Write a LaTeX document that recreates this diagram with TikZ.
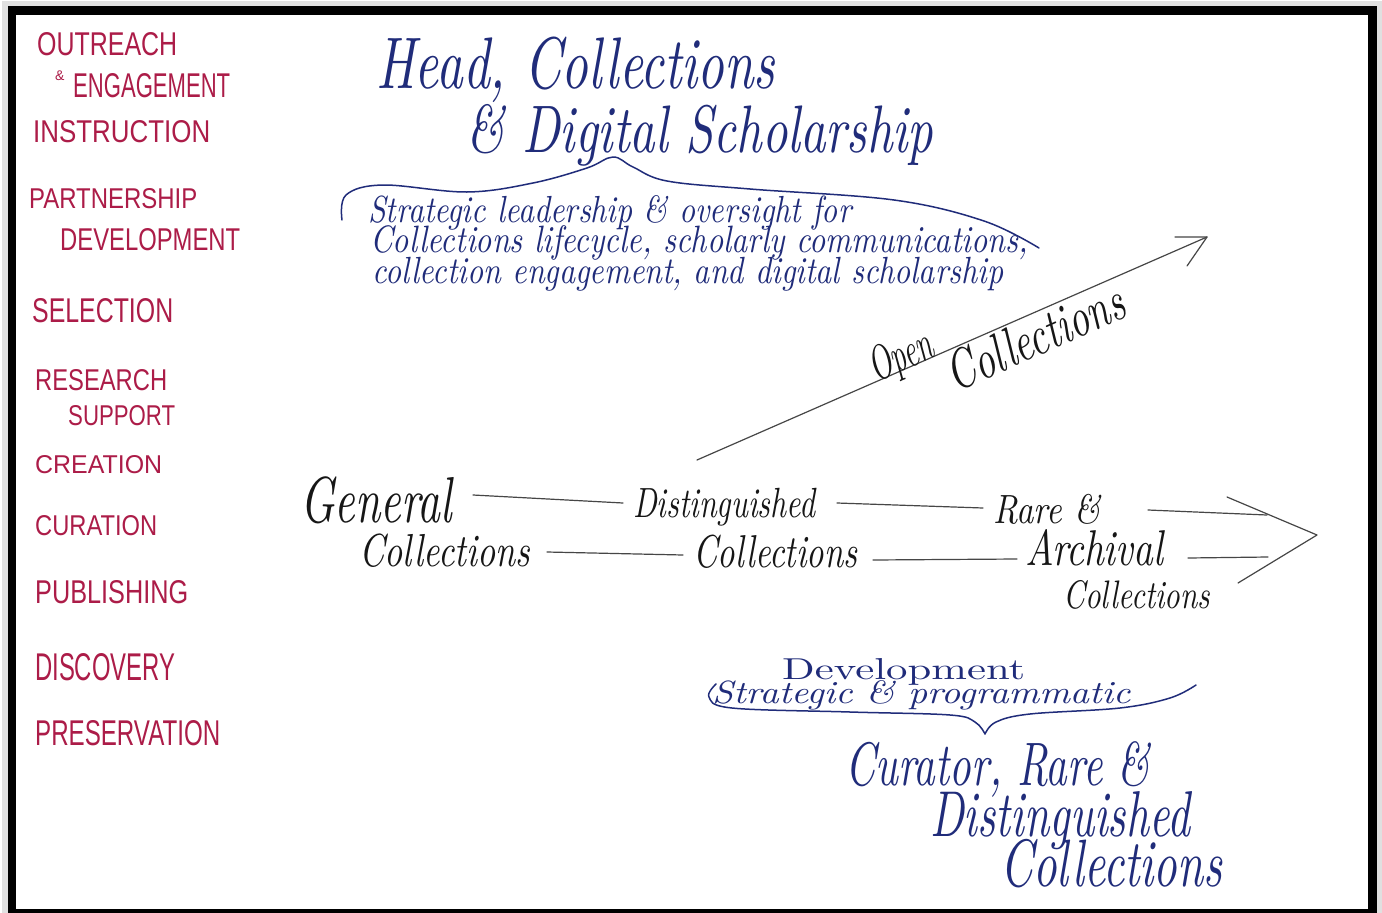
\documentclass[tikz,border=0pt]{standalone}
\usepackage{fontspec}
\newfontfamily\capsfont{Liberation Sans}
\usetikzlibrary{calc}

\definecolor{inkred}{RGB}{172,28,72}
\definecolor{inkblue}{RGB}{32,44,122}
\definecolor{inkblack}{RGB}{22,22,22}
\definecolor{pencil}{RGB}{70,70,70}

% stretch a piece of text to an exact width and height (in px units)
\newcommand\inkbox[3]{\resizebox{#1pt}{#2pt}{#3}}
% fit a text to a width, then stretch it upwards by a factor
\newcommand\ink[3][1.3]{\scalebox{1}[#1]{\resizebox{#2pt}{!}{#3}}}

\tikzset{
  role/.style={inner sep=0pt, anchor=base west, text=inkred, font=\capsfont},
  script/.style={inner sep=0pt, anchor=base west, text=inkblue, font=\itshape},
  coll/.style={inner sep=0pt, anchor=base west, text=inkblack, font=\itshape},
  link/.style={draw=pencil, line width=1.2pt, line cap=round},
  bluepen/.style={draw=inkblue, line width=1.5pt, line cap=round, line join=round},
}

\begin{document}
\begin{tikzpicture}[x=1pt,y=-1pt]
\useasboundingbox (0,0) rectangle (1382,913);
\fill[white] (0,0) rectangle (1382,913);

% frame with a soft shadow
\fill[black!12] (2,1) rectangle (1382,913);
\fill[black] (8,6) rectangle (1377,913);
\fill[white] (16,15) rectangle (1368,909);

% ---- activities (left column) ----
\node[role] (outreach)   at (37,55)  {\inkbox{140}{23}{OUTREACH}};
\node[role, font=\capsfont\fontsize{14}{14}\selectfont] (amp) at (55,80) {\&};
\node[role] (engagement) at (73,97)  {\inkbox{157}{24}{ENGAGEMENT}};
\node[role] (instruction) at (33,142) {\inkbox{177}{22}{INSTRUCTION}};
\node[role] (partnership) at (29,208) {\inkbox{168}{20}{PARTNERSHIP}};
\node[role] (development) at (60,250) {\inkbox{180}{22}{DEVELOPMENT}};
\node[role] (selection)  at (32,322) {\inkbox{141}{24}{SELECTION}};
\node[role] (research)   at (35,390) {\inkbox{132}{21}{RESEARCH}};
\node[role] (support)    at (68,425) {\inkbox{107}{20}{SUPPORT}};
\node[role] (creation)   at (35,473) {\inkbox{127}{18}{CREATION}};
\node[role] (curation)   at (35,535) {\inkbox{122}{20}{CURATION}};
\node[role] (publishing) at (35,603) {\inkbox{153}{23}{PUBLISHING}};
\node[role] (discovery)  at (35,680) {\inkbox{140}{27}{DISCOVERY}};
\node[role] (preservation) at (35,745) {\inkbox{185}{25}{PRESERVATION}};

% ---- head position ----
\node[script] (head1) at (376,88)  {\ink[1.4]{399}{Head, Collections}};
\node[script] (head2) at (466,152) {\ink[1.35]{467}{\& Digital Scholarship}};

\draw[bluepen] plot[smooth, tension=0.6] coordinates {
  (342,220) (346,195) (383,185) (467,192) (533,183) (587,168) (613,157)
  (633,167) (667,181) (750,189) (894,200) (984,221) (1039,248)};

\node[script] (remit1) at (368,222) {\ink[1.2]{483}{Strategic leadership \& oversight for}};
\node[script] (remit2) at (370,252) {\ink[1.2]{658}{Collections lifecycle, scholarly communications,}};
\node[script] (remit3) at (372,283) {\ink[1.2]{631}{collection engagement, and digital scholarship}};

% ---- open collections arrow ----
\coordinate (oc-tail) at (697,460);
\coordinate (oc-tip)  at (1207,237);
\coordinate (oc-b1)   at (1175,237);
\coordinate (oc-b2)   at (1187,266);
\draw[link] (oc-tail) -- (oc-tip);
\draw[link, line join=round] (oc-b1) -- (oc-tip) -- (oc-b2);
\node[coll, rotate=24] (open)  at (876,383) {\inkbox{66}{34}{Open}};
\node[coll, rotate=24] (openc) at (955,393) {\ink[1.4]{190}{Collections}};

% ---- collections continuum ----
\node[coll] (gen1)  at (300,522)  {\ink[1.45]{152}{General}};
\node[coll] (gen2)  at (359,566)  {\ink[1.3]{171}{Collections}};
\node[coll] (dist1) at (633,517)  {\ink[1.35]{182}{Distinguished}};
\node[coll] (dist2) at (693,567)  {\ink[1.35]{164}{Collections}};
\node[coll] (rare1) at (993,523)  {\ink[1.2]{107}{Rare \&}};
\node[coll] (rare2) at (1025,565) {\ink[1.3]{138}{Archival}};
\node[coll] (rare3) at (1063,608) {\ink[1.3]{147}{Collections}};

\coordinate (g-t) at (473,495);  \coordinate (d-tl) at (623,503);
\coordinate (g-b) at (547,552);  \coordinate (d-bl) at (683,555);
\coordinate (d-tr) at (837,503); \coordinate (r-tl) at (983,508);
\coordinate (d-br) at (873,560); \coordinate (r-bl) at (1017,559);
\coordinate (r-tr) at (1148,510); \coordinate (e-t) at (1267,515);
\coordinate (r-br) at (1188,558); \coordinate (e-b) at (1268,557);
\coordinate (ah-1) at (1227,497); \coordinate (ah-tip) at (1317,535);
\coordinate (ah-2) at (1238,583);
\draw[link] (g-t) -- (d-tl);
\draw[link] (g-b) -- (d-bl);
\draw[link] (d-tr) -- (r-tl);
\draw[link] (d-br) -- (r-bl);
\draw[link] (r-tr) -- (e-t);
\draw[link] (r-br) -- (e-b);
\draw[link, line join=round] (ah-1) -- (ah-tip) -- (ah-2);

% ---- curator position ----
\node[script, font=\upshape] (dev) at (782,679) {\inkbox{243}{21}{Development}};
\node[script] (stp)  at (712,703) {\inkbox{418}{23}{Strategic \& programmatic}};
% brace under the programme line, pointing down to the curator title
\draw[bluepen] plot[smooth, tension=0.6] coordinates {
  (716,684) (709,697) (732,708) (850,712) (950,715) (975,722) (985,734)};
\draw[bluepen] plot[smooth, tension=0.6] coordinates {
  (985,734) (996,722) (1030,714) (1120,708) (1170,698) (1196,685)};

\node[script] (cur1) at (845,785)  {\ink[1.45]{305}{Curator, Rare \&}};
\node[script] (cur2) at (930,836)  {\ink[1.45]{260}{Distinguished}};
\node[script] (cur3) at (1000,886) {\ink[1.45]{222}{Collections}};
\end{tikzpicture}
\end{document}
